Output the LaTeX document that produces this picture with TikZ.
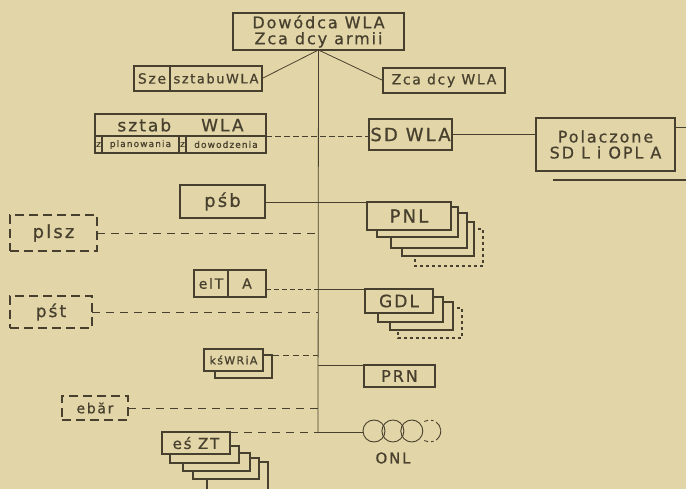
\documentclass[tikz,border=0pt]{standalone}
\usepackage{fontspec}
\newfontfamily\stamp[LetterSpace=12,FakeBold=0.8]{DejaVu Sans}
\usetikzlibrary{positioning,calc}
\definecolor{paper}{RGB}{226,214,168}
\definecolor{ink}{RGB}{72,64,46}
\newcommand{\pts}[1]{\stamp\fontsize{#1}{#1}\selectfont}

\begin{document}
\begin{tikzpicture}[x=1pt,y=-1pt,every node/.style={font=\pts{18},text=ink}]
  \tikzstyle{unit}=[draw=ink, line width=1.3pt, fill=paper, inner sep=0pt, outer sep=0pt, align=center]
  \tikzstyle{spare}=[unit, dash pattern=on 9pt off 5pt]
  \tikzstyle{layer}=[draw=ink, line width=1.3pt, fill=paper]
  \tikzstyle{link}=[draw=ink, line width=0.8pt]
  \tikzstyle{dlink}=[link, dash pattern=on 8pt off 6pt]
  \fill[paper] (0,0) rectangle (686,489);
  \clip (0,0) rectangle (686,489);
  % command and staff
  \node[unit, minimum width=171, minimum height=37, font=\pts{16}] (dca) at (318.5,31.5) {Dowódca WLA\\Zca dcy armii};
  \node[unit, minimum width=36, minimum height=25, font=\pts{14}] (szefA) at (152,78.5) {Sze};
  \node[unit, minimum width=92, minimum height=25, font=\pts{13}, right=0pt of szefA] (szefB) {sztabuWLA};
  \node[unit, minimum width=122, minimum height=25, font=\pts{14}] (zca) at (444,80.5) {Zca dcy WLA};
  \node[unit, minimum width=171, minimum height=22, font=\pts{17}] (sztab) at (180.5,125) {sztab\hspace{30pt}WLA};
  \node[unit, minimum width=7, minimum height=17, font=\pts{9}, anchor=north west] (zA) at (sztab.south west) {z};
  \node[unit, minimum width=77, minimum height=17, font=\pts{9}, right=0pt of zA] (plan) {planowania};
  \node[unit, minimum width=7, minimum height=17, font=\pts{9}, right=0pt of plan] (zB) {z};
  \node[unit, minimum width=80, minimum height=17, font=\pts{9}, right=0pt of zB] (dow) {dowodzenia};
  \node[unit, minimum width=83, minimum height=31, font=\pts{18}] (sdwla) at (410.5,134.5) {SD WLA};
  \node[unit, minimum width=139, minimum height=53, font=\pts{16}] (polacz) at (605.5,144.5) {Polaczone\\SD L i OPL A};
  \coordinate (offR) at (686,127);
  \coordinate (offB) at (686,180);
  % stacked units (drawn from the back)
  \foreach \l/\t/\r/\b/\s in {415/229/483/266/dashed, 402/222/474/256/solid, 391/213/467/248/solid, 377/207/458/237/solid}
    \draw[layer, \s] (\l,\t) rectangle (\r,\b);
  \foreach \l/\t/\r/\b/\s in {398/308/462/338/dashed, 390/302/453/330/solid, 378/297/443/322/solid}
    \draw[layer, \s] (\l,\t) rectangle (\r,\b);
  \draw[layer] (215,355) rectangle (272,378);
  \foreach \l/\t/\r/\b in {207/462/268/500, 193/458/259/479, 183/453/250/471, 170/446/239/463}
    \draw[layer] (\l,\t) rectangle (\r,\b);
  \node[unit, minimum width=85, minimum height=33] (psb) at (222.5,201.5) {pśb};
  \node[unit, minimum width=84, minimum height=28] (pnl) at (409,216) {PNL};
  \node[spare, minimum width=87, minimum height=36] (plsz) at (53.5,233) {plsz};
  \node[unit, minimum width=34, minimum height=27, font=\pts{14}] (eltA) at (211,283.5) {elT};
  \node[unit, minimum width=38, minimum height=27, font=\pts{14}, right=0pt of eltA] (eltB) {A};
  \node[unit, minimum width=68, minimum height=24, font=\pts{17}] (gdl) at (399,301) {GDL};
  \node[spare, minimum width=82, minimum height=32, font=\pts{17}] (pst) at (51,312) {pśt};
  \node[unit, minimum width=59, minimum height=22, font=\pts{11}] (ksw) at (233.5,360) {kśWRiA};
  \node[unit, minimum width=71, minimum height=22, font=\pts{16}] (prn) at (399.5,376) {PRN};
  \node[spare, minimum width=66, minimum height=24, font=\pts{14}] (ebar) at (95,408) {ebăr};
  \node[unit, minimum width=68, minimum height=22, font=\pts{15}] (esz) at (196,443) {eś ZT};
  \node[circle, draw=ink, line width=0.9pt, minimum size=22, inner sep=0pt] (onl) at (374,431) {};
  \node[circle, draw=ink, line width=0.9pt, minimum size=22, inner sep=0pt, right=-4pt of onl] (onl2) {};
  \node[circle, draw=ink, line width=0.9pt, minimum size=22, inner sep=0pt, right=-4pt of onl2] (onl3) {};
  \draw[ink, line width=0.9pt] ($(onl3.center)+(18,0)$) ++(55:11) arc (55:-55:11);
  \draw[ink, line width=0.9pt, dash pattern=on 4pt off 3pt] ($(onl3.center)+(18,0)$) ++(120:11) arc (120:70:11);
  \draw[ink, line width=0.9pt, dash pattern=on 4pt off 3pt] ($(onl3.center)+(18,0)$) ++(-120:11) arc (-120:-70:11);
  \node[font=\pts{15}] (onlT) at (393,458) {ONL};
  % trunk and links
  \coordinate (bot) at (318,432);
  \coordinate (kswR) at ($(ksw.east)+(10,-5)$);
  \draw[link] (dca.south) -- (bot);
  \draw[link] (dca.south) -- (szefB.east);
  \draw[link] (dca.south) -- (zca.west);
  \draw[dlink, dash pattern=on 6pt off 3pt] (dow.north east) -- (dow.north east -| sdwla.west);
  \draw[link] (sdwla.east) -- (sdwla.east -| polacz.west);
  \draw[link, line width=1.2pt] ($(polacz.west)+(-14,-10)$) -- ($(polacz.west)+(-4,-10)$);
  \draw[link] (offR -| polacz.east) -- (offR);
  \draw[ink, line width=1.3pt] ($(polacz.south west)+(17,9)$) -- (offB);
  \draw[link] (pnl.north west -| psb.east) -- (pnl.north west);
  \draw[dlink] (plsz.east) -- (plsz.east -| bot);
  \draw[dlink, dash pattern=on 5pt off 3pt] (gdl.north west -| eltB.east) -- (gdl.north west -| bot);
  \draw[link] (gdl.north west -| bot) -- (gdl.north west);
  \draw[dlink] (pst.east) -- (pst.east -| bot);
  \draw[dlink, dash pattern=on 6pt off 4pt] (kswR) -- (kswR -| bot);
  \draw[link] (prn.north west -| bot) -- (prn.north west);
  \draw[dlink] (ebar.east) -- (ebar.east -| bot);
  \draw[dlink] (esz.north east) -- (bot);
  \draw[link] (bot) -- (bot -| onl.west);
\end{tikzpicture}
\end{document}
